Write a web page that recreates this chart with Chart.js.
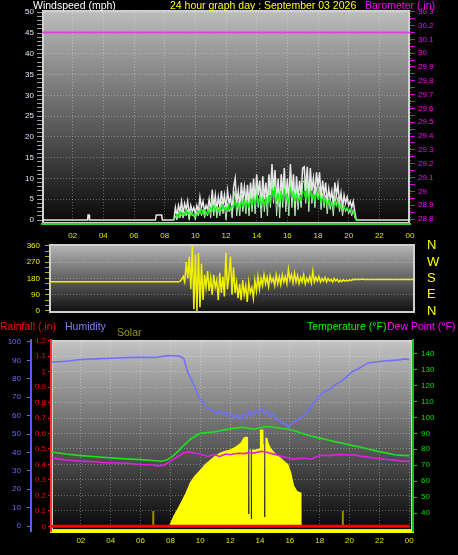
<!DOCTYPE html>
<html><head><meta charset="utf-8">
<script src="https://cdn.jsdelivr.net/npm/chart.js@4/dist/chart.umd.min.js"></script>
<style>
html,body{margin:0;padding:0;background:#000;width:458px;height:555px;overflow:hidden;}
canvas{position:absolute;left:0;}
.t{position:absolute;font-family:"Liberation Sans",Arial,sans-serif;font-size:10.5px;white-space:nowrap;line-height:12px;}
</style></head><body>
<canvas id="c1" style="top:0px" width="458" height="245"></canvas>
<canvas id="c2" style="top:240px" width="458" height="80"></canvas>
<canvas id="c3" style="top:320px" width="458" height="235"></canvas>
<div class="t" style="left:33px;top:-1px;color:#ffffff">Windspeed (mph)</div>
<div class="t" style="left:170px;top:-1px;color:#ffff00">24 hour graph day : September 03 2026</div>
<div class="t" style="left:365px;top:-1px;color:#ff00ff">Barometer (.in)</div>
<div class="t" style="left:0px;top:320px;color:#ff0000">Rainfall (.in)</div>
<div class="t" style="left:65px;top:320px;color:#7f7fff">Humidity</div>
<div class="t" style="left:117px;top:326px;color:#9a9420">Solar</div>
<div class="t" style="left:307px;top:320px;color:#00ff00">Temperature (°F)</div>
<div class="t" style="left:387px;top:320px;color:#ff00ff">Dew Point (°F)</div>
<script>
// ---------- tick labels ----------
const hourTicks = [0,2,4,6,8,10,12,14,16,18,20,22,24];
const hourTickLabels = ['','02','04','06','08','10','12','14','16','18','20','22','00'];
const windLabels = ['0','5','10','15','20','25','30','35','40','45','50'];
const baroLabels = ['28.8','28.9','29','29.1','29.2','29.3','29.4','29.5','29.6','29.7','29.8','29.9','30','30.1','30.2','30.3'];
const dirLabels = ['0','90','180','270','360'];
const compassLabels = ['N','E','S','W','N'];
const humLabels = ['0','10','20','30','40','50','60','70','80','90','100'];
const rainLabels = ['0','0.1','0.2','0.3','0.4','0.5','0.6','0.7','0.8','0.9','1','1.1','1.2'];
const tempLabels = ['40','50','60','70','80','90','100','110','120','130','140'];

// ---------- wind speed (mph), 0.1 h samples from 08.6 h ----------
const windStart = 8.6, windStep = 0.1;
const gustValues = [0,3,1,3.5,2,4.5,1.5,4,2.5,4.5,
1,3.5,2,3,1.5,3.5,2,5.5,3,4.5,
2,3.5,2.5,5,2,7.3,3,6,2.5,5.5,
3,7,3.5,6,2.5,7,4,5.5,2,8,
10,4,7,3,9,5,8,4,8.5,3.5,
9,5,10,4,11,6,9.5,3,10.5,5,
9,4,11,6,13.5,7,12,4,10,3,
11,6,12.5,5,10,4,13.5,6,11,3.5,
10.5,5,9.5,6,12.5,12.8,7,12.8,5,12.5,
7,10,6,11.5,8,11.5,5,9.5,6,9,
4,7.5,5,7,3.5,9,6,8.5,4,6.5,
3,6,4,5.5,3.5,4.5,3,4.5,2,0,
0];
const speedValues = [0,1,0,2,0.5,2.5,0.5,2,1,2.5,
0,2,1,1.5,0,2,1,3,1,2.5,
0.5,2,1,3,0.5,5,1,4,0.5,3,
1,4.5,1.5,3.5,0,4,2,3,0.5,5,
7,1,4.5,1,6,2,5,1.5,6,1,
6.5,2,7,1.5,8,3,6,0.5,7.5,2,
6,1,8,3,10,4,9,1,7,0.5,
8,3,9.5,2,7,1,10,3,8,1,
7.5,2.5,6.5,3,9,9.5,4,10,2,9,
4,7,3,8,5,8,2.5,6.5,3,6,
1.5,5,2.5,4.5,1,6,3.5,5.5,2,4,
1,3.5,2,3,1.5,2.5,1,2.5,0.5,0,
0];
const avgValues = [0,0.5,1.5,0.5,2,1,1.8,1,2.5,1.2,
2,1,1.8,0.8,1.5,1,2.2,1.5,2.8,1.5,
2.5,1.2,2.5,1.8,3,2,3.5,2.2,3.2,2,
3,2.2,3.8,2.5,3.2,2,3.8,2.5,3.5,2.8,
4.8,3,4.2,2.8,4.5,3.2,5,3,4.8,3,
5,3.5,5.5,3.5,6,4,5.8,3.5,5.5,3.8,
5.5,3.5,6,4,7.5,5,8,4.5,6.5,4,
7,4.5,7.5,5,6.5,4,8,5.5,7,4.5,
6.5,4.5,6,4.5,7,6.5,5,7.5,4.5,7,
5,6.5,4.5,6.5,5,6.2,4.2,5.5,4,5.2,
3.5,4.8,3.5,4.5,3,4.5,3.2,4.2,3,3.8,
2.5,3.2,2.5,3,2.2,2.8,2,2.5,1,0,
0];
const quietGustTimes = [0,2.98,3.0,3.08,3.1,7.4,7.45,7.8,7.85,8.5];
const quietGustValues = [0,0,1.2,1.2,0,0,1.2,1.2,0,0];
const lateGustTimes = [20.7,24];
const lateGustValues = [0,0];
const baroTimes = [0,6,12,18,24];
const baroValues = [30.15,30.15,30.15,30.15,30.15];

// ---------- wind direction (deg), 0.1 h samples from 08.6 h ----------
const dirStart = 8.6, dirStep = 0.1;
const dirValues = [165,175,190,160,270,180,300,120,360,10,
310,0,320,20,260,60,200,130,220,110,
180,90,200,130,170,60,210,100,190,80,
320,120,200,300,90,240,100,160,70,150,
60,170,90,140,50,160,100,130,70,170,
110,190,120,180,140,200,150,185,135,195,
160,180,140,200,150,190,145,200,160,190,
150,230,170,200,155,210,160,195,150,185,
160,200,150,180,160,190,155,220,160,185,
165,190,160,180,165,185,160,180,165,175,
160,180,165,175,160,170,162,172,165,170,
165,172,168,174,172,175,174,175,174,175,
175];
const dirHeadTimes = [0,8.5], dirHeadValues = [161,161];
const dirTailTimes = [20.7,24], dirTailValues = [174,174];

// ---------- humidity / temperature / dew point / solar / rain ----------
const humTimes = [0,1,2,3,4,5,6,7,7.8,8.2,8.6,8.9,9.1,9.3,9.5,9.7,9.9,10.2,10.5,10.8,11.1,11.3,11.5,11.7,11.9,12.1,12.3,12.5,12.7,12.9,13.1,13.3,13.5,13.7,13.9,14.1,14.3,14.5,14.7,14.9,15.1,15.3,15.5,15.7,15.9,16.1,16.3,16.6,16.9,17.2,17.5,17.9,18.3,18.7,19.1,19.4,19.8,20.2,20.6,21.2,21.6,22,22.5,22.9,23.3,23.7,24];
const humValues = [89,89.5,90.5,90.8,91.2,91.5,91.7,91.6,92.6,92.5,92.3,91,85,81,78,74,70,67,64,63,61,62.5,60.5,62,59.5,61,58.5,60.5,58,61,59,62.5,60,63,61.5,64,61,62.5,59.5,60.5,58,57.5,56,55.5,54,55.5,56.5,58,60,62,66,70,73,74.5,77,78.5,81,84,85.5,88.5,89,89.4,89.8,90,90.3,90.8,90.3];
const tempTimes = [0,1,2,3,4,5,6,7,7.4,7.8,8.2,8.6,8.9,9.3,9.7,10,10.5,11,11.5,12,12.5,12.8,13.2,13.6,14,14.5,14.9,15.4,15.9,16.4,16.9,17.4,18,18.5,19,19.7,20.2,20.7,21.3,21.9,22.5,23,23.5,24];
const tempValues = [78.3,77,76,75.3,74.6,74,73.5,72.8,72.5,73.5,76,79.5,82.5,86,88.5,90,90.5,91,92,92.8,93.4,93.8,93.2,92.6,93.5,94.3,93.8,93.2,92.6,91.3,89.8,88.3,87,86,84.8,83.5,82.3,81.4,80,78.7,77.6,76.6,76.2,76];
const dewTimes = [0,0.5,1,2,3,3.5,4,5,6,6.7,7.2,7.6,8,8.5,8.9,9.3,9.6,10,10.5,10.9,11.3,11.7,12,12.5,13,13.2,13.6,14.1,14.5,15,15.5,15.9,16.2,16.6,17,17.4,17.8,18.1,18.6,19,19.4,19.9,20.3,20.7,21.2,21.6,21.9,22.5,23,23.5,24];
const dewValues = [74.7,74,73.3,72.6,72.2,71.6,71.6,71.2,70.5,70.3,69.6,70.2,72.6,75.5,77.8,78.3,77.5,77,75.5,76.8,75.5,77,76.6,77.5,77.3,78,77.6,78.8,78,76.8,75.5,74.5,73.7,74.3,74.4,73.8,75.3,76.3,76,76.5,76.8,76.4,76.6,75.7,75.2,74.5,74.1,73.6,73.2,72.6,72.4];
const solarTimes = [0,7.9,8.2,8.5,8.8,9.0,9.3,9.6,10,10.3,10.7,11.0,11.3,11.6,12,12.4,12.7,12.9,13.1,13.2,13.21,13.28,13.29,13.38,13.39,13.46,13.47,13.7,13.99,14.0,14.23,14.24,14.27,14.28,14.35,14.36,14.5,14.6,14.8,15.0,15.2,15.4,15.6,15.9,16.0,16.1,16.2,16.3,16.5,16.7,16.78,16.79,24];
const solarValues = [0,0,100,180,263,320,425,490,554,605,652,690,717,735,749,780,814,866,875,866,117,117,749,749,68,68,749,749,760,944,944,800,800,88,88,866,860,800,749,717,690,668,640,603,560,522,450,392,343,330,327,0,0];
const solarMarkTimes = [6.85,19.55];
const solarMarkValues = [146,146];
const rainTimes = [0,24];
const rainValues = [0,0];

// ---------- helpers ----------
function series(times, values){ return times.map((t,i)=>({x:t,y:values[i]})); }
function stepTimes(start, step, n){ return Array.from({length:n},(_,i)=>+(start+i*step).toFixed(2)); }
const windTimes = stepTimes(windStart, windStep, gustValues.length);
const dirTimes = stepTimes(dirStart, dirStep, dirValues.length);

Chart.defaults.font.family = "'Liberation Sans Narrow','Liberation Sans',Arial,sans-serif";
Chart.defaults.font.size = 8;

const panelBg = {
  id:'panelBg',
  beforeDraw(chart, args, opts){
    const {ctx, chartArea:a} = chart;
    ctx.save();
    const g = ctx.createLinearGradient(0,a.top,0,a.bottom);
    g.addColorStop(0, opts.top); g.addColorStop(1, opts.bottom);
    ctx.fillStyle = g;
    ctx.fillRect(a.left,a.top,a.right-a.left,a.bottom-a.top);
    ctx.strokeStyle = opts.frame; ctx.lineWidth = 2;
    ctx.strokeRect(a.left+1,a.top+1,a.right-a.left-2,a.bottom-a.top-2);
    ctx.restore();
  }
};
const GRID = 'rgba(255,255,255,0.32)';
const setTicks = vals => s => { s.ticks = vals.map(v=>({value:v})); };
const fitW = w => s => { s.width = w; s.paddingTop = 0; s.paddingBottom = 0; };
function range(a,b,st){ const r=[]; for(let v=a; v<=b+1e-9; v+=st) r.push(+v.toFixed(3)); return r; }
const base = {responsive:false, animation:false, devicePixelRatio:1,
  elements:{point:{radius:0}, line:{tension:0}},
  plugins:{legend:{display:false}, tooltip:{enabled:false}}};
const xHours = (height, max, borderColor, borderWidth, pad) => ({
  type:'linear', min:0, max:max,
  afterBuildTicks: setTicks(hourTicks),
  afterFit: s=>{ s.height = height; s.paddingLeft = 0; s.paddingRight = 0; },
  ticks:{autoSkip:false, maxRotation:0, color:'#e0e000', padding:pad,
    callback:(v,i)=>hourTickLabels[i]},
  grid:{color:GRID, drawTicks:false},
  border:{display:true, color:borderColor, width:borderWidth, dash:[1,2]}
});

// ---------- panel 1 : wind speed + barometer ----------
const windTickVals = range(0,50,1);
const baroTickVals = range(28.8,30.3,0.05);
new Chart(document.getElementById('c1'), {
  type:'line',
  data:{datasets:[
    {data:series(windTimes,avgValues), borderColor:'#00ff00', borderWidth:1, yAxisID:'y'},
    {data:series(windTimes,speedValues), borderColor:'#b4f0b4', borderWidth:1, yAxisID:'y'},
    {data:series(quietGustTimes,quietGustValues).concat(series(windTimes,gustValues),series(lateGustTimes,lateGustValues)), borderColor:'#e6e6e6', borderWidth:1.5, yAxisID:'y'},
    {data:series(baroTimes,baroValues), borderColor:'#e040e0', borderWidth:2, yAxisID:'yb'}
  ]},
  options:Object.assign({}, base, {
    layout:{padding:{top:10,left:0,right:0,bottom:0}},
    plugins:Object.assign({}, base.plugins, {panelBg:{top:'#bdbdbd', bottom:'#070707', frame:'#cfcfcf'}}),
    scales:{
      x: xHours(21, 24, '#30d030', 2, 7),
      y:{position:'left', min:-0.96, max:50.55,
        afterBuildTicks:setTicks(windTickVals), afterFit:fitW(42),
        ticks:{autoSkip:false, color:'#dde6ff', padding:3,
          callback:(v)=> (Math.round(v)%5===0 ? windLabels[Math.round(v)/5] : '')},
        grid:{color:c=> (c.tick && Math.round(c.tick.value)%5===0 && c.tick.value>0) ? GRID : 'rgba(0,0,0,0)',
          tickColor:'#9a9a9a', tickLength:5},
        border:{display:false, dash:[1,2]}},
      yb:{position:'right', min:28.764, max:30.312,
        afterBuildTicks:setTicks(baroTickVals), afterFit:fitW(48),
        ticks:{autoSkip:false, color:'#ff00ff', padding:3,
          callback:(v,i)=> (i%2===0 ? baroLabels[i/2] : '')},
        grid:{drawOnChartArea:false, tickColor:'#d000d0', tickLength:5},
        border:{display:false}}
    }
  }),
  plugins:[panelBg]
});

// ---------- panel 2 : wind direction ----------
const dirTickVals = range(0,360,30);
new Chart(document.getElementById('c2'), {
  type:'line',
  data:{datasets:[
    {data:series(dirHeadTimes,dirHeadValues).concat(series(dirTimes,dirValues),series(dirTailTimes,dirTailValues)),
     borderColor:'#f0f000', borderWidth:1.5, yAxisID:'y'}
  ]},
  options:Object.assign({}, base, {
    layout:{padding:{top:4,left:0,right:0,bottom:7}},
    plugins:Object.assign({}, base.plugins, {panelBg:{top:'#b8b8b8', bottom:'#0c0c0c', frame:'#cfcfcf'}}),
    scales:{
      x:{type:'linear', min:0, max:24, display:false},
      y:{position:'left', min:-11.4, max:369.7,
        afterBuildTicks:setTicks(dirTickVals), afterFit:fitW(49),
        ticks:{autoSkip:false, color:'#f0f000', padding:5,
          callback:(v,i)=> (i%3===0 ? dirLabels[i/3] : '')},
        grid:{color:c=> (c.tick && c.tick.value%90===0 && c.tick.value>0 && c.tick.value<360) ? GRID : 'rgba(0,0,0,0)',
          tickColor:'#b0b000', tickLength:4},
        border:{display:false, dash:[1,2]}},
      yr:{position:'right', min:-11.4, max:369.7,
        afterBuildTicks:setTicks([0,90,180,270,360]), afterFit:fitW(43),
        ticks:{autoSkip:false, color:'#ffff00', padding:12, font:{family:"'Liberation Sans',Arial,sans-serif", size:13},
          callback:(v,i)=>compassLabels[i]},
        grid:{drawOnChartArea:false, drawTicks:false},
        border:{display:false}}
    }
  }),
  plugins:[panelBg]
});

// ---------- panel 3 : rain, humidity, solar, temperature, dew point ----------
new Chart(document.getElementById('c3'), {
  type:'line',
  data:{datasets:[
    {data:series(rainTimes,rainValues), borderColor:'#ff0000', borderWidth:3, yAxisID:'yr'},
    {data:series(tempTimes,tempValues), borderColor:'#20e020', borderWidth:1.6, yAxisID:'yt'},
    {data:series(dewTimes,dewValues), borderColor:'#e020e0', borderWidth:1.6, yAxisID:'yt'},
    {data:series(humTimes,humValues), borderColor:'#7070ff', borderWidth:1.6, yAxisID:'yh'},
    {data:[{x:solarMarkTimes[0],y:0},{x:solarMarkTimes[0],y:solarMarkValues[0]},{x:solarMarkTimes[0]+0.01,y:null},
           {x:solarMarkTimes[1],y:0},{x:solarMarkTimes[1],y:solarMarkValues[1]}],
     borderColor:'#9a8c00', borderWidth:2, yAxisID:'ys', spanGaps:false},
    {data:series(solarTimes,solarValues), borderColor:'rgba(0,0,0,0)', backgroundColor:'#ffff00', borderWidth:0, fill:'origin', yAxisID:'ys'}
  ]},
  options:Object.assign({}, base, {
    layout:{padding:{top:20,left:0,right:0,bottom:0}},
    plugins:Object.assign({}, base.plugins, {panelBg:{top:'#c4c4c4', bottom:'#060606', frame:'#cfcfcf'}, filler:{propagate:false}}),
    scales:{
      x: xHours(24, 24.25, '#ffff00', 3, 5),
      yh:{position:'left', weight:1, min:-2.7, max:101.08,
        afterBuildTicks:setTicks(range(0,100,10)), afterFit:fitW(31),
        ticks:{autoSkip:false, color:'#6a6aff', padding:6, callback:(v,i)=>humLabels[i]},
        grid:{drawOnChartArea:false, tickColor:'#6a6aff', tickLength:4},
        border:{display:true, color:'#5a5aff', width:2}},
      yr:{position:'left', weight:0, min:-0.030, max:1.2045,
        afterBuildTicks:setTicks(range(0,1.2,0.1)), afterFit:fitW(20),
        ticks:{autoSkip:false, color:'#ff0000', padding:2, callback:(v,i)=>rainLabels[i]},
        grid:{color:c=> (c.tick && c.tick.value>0.001) ? GRID : 'rgba(0,0,0,0)', tickColor:'#ff0000', tickLength:3},
        border:{display:true, color:'#ff3030', width:2, dash:[1,2]}},
      yt:{position:'right', min:28.78, max:148.5,
        afterBuildTicks:setTicks(range(40,140,10)), afterFit:fitW(45),
        ticks:{autoSkip:false, color:'#00e000', padding:4, callback:(v,i)=>tempLabels[i]},
        grid:{drawOnChartArea:false, tickColor:'#00d000', tickLength:4},
        border:{display:true, color:'#10c010', width:2}},
      ys:{display:false, min:-48.6, max:1819.4}
    }
  }),
  plugins:[panelBg]
});
</script>
</body></html>
